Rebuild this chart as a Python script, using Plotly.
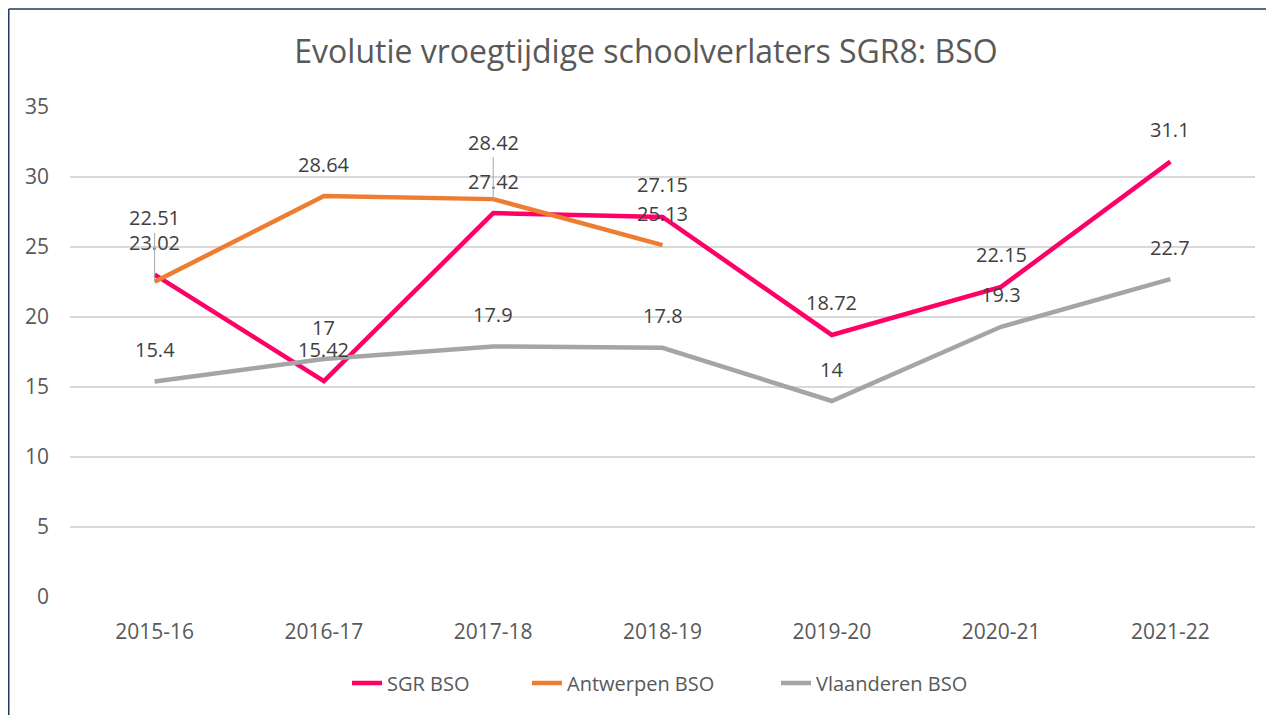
import plotly.graph_objects as go

categories = ["2015-16", "2016-17", "2017-18", "2018-19", "2019-20", "2020-21", "2021-22"]
sgr = [23.02, 15.42, 27.42, 27.15, 18.72, 22.15, 31.1]
antwerpen = [22.51, 28.64, 28.42, 25.13, None, None, None]
vlaanderen = [15.4, 17, 17.9, 17.8, 14, 19.3, 22.7]
y_ticks = [0, 5, 10, 15, 20, 25, 30, 35]

series = [
    ("SGR BSO", sgr, "#FF0066", "legend"),
    ("Antwerpen BSO", antwerpen, "#ED7D31", "legend2"),
    ("Vlaanderen BSO", vlaanderen, "#A5A5A5", "legend3"),
]

FONT = "Open Sans"
TXT = "#595959"
LBL = "#404040"

# page body has an 8px margin: figure origin sits at page (8, 8)
W, H = 1266, 707
L, T = 62, 99
PW, PH = 1185, 490

fig = go.Figure()
for name, vals, col, lg in series:
    fig.add_trace(go.Scatter(
        x=categories, y=vals, name=name, mode="lines", legend=lg,
        line=dict(color=col, width=4.5), connectgaps=False,
    ))

# data labels: default above point; a few pulled up with leader lines
leader = {("Antwerpen BSO", "2015-16"): -64, ("Antwerpen BSO", "2017-18"): -57}
for name, vals, col, lg in series:
    for c, v in zip(categories, vals):
        if v is None:
            continue
        txt = f"{v:g}"
        if (name, c) in leader:
            fig.add_annotation(x=c, y=v, text=txt, showarrow=True, ax=0, ay=leader[(name, c)],
                               arrowhead=0, arrowwidth=1, arrowcolor="#A6A6A6", standoff=0,
                               font=dict(family=FONT, size=20, color=LBL))
        else:
            fig.add_annotation(x=c, y=v, text=txt, showarrow=False, yshift=32,
                               font=dict(family=FONT, size=20, color=LBL))

# outer frame (left and top edges)
fx = (0.75 - L) / PW
fy = 1 + (T - 1) / PH
fig.add_shape(type="line", xref="paper", yref="paper", x0=fx, x1=fx,
              y0=-0.5, y1=fy, line=dict(color="#1F3864", width=1.5))
fig.add_shape(type="line", xref="paper", yref="paper", x0=fx, x1=1.1,
              y0=fy, y1=fy, line=dict(color="#1F3864", width=1.5))


def legend_at(text_start_px):
    return dict(orientation="h", x=(text_start_px - 39 - 8 - L) / PW, xanchor="left",
                y=(597 - 683) / PH, yanchor="middle",
                font=dict(family=FONT, size=20, color=TXT), bgcolor="rgba(0,0,0,0)")


fig.update_layout(
    width=W, height=H,
    margin=dict(l=L, r=W - L - PW, t=T, b=H - T - PH, pad=0),
    paper_bgcolor="white", plot_bgcolor="white",
    title=dict(text="Evolutie vroegtijdige schoolverlaters SGR8: BSO", x=((289 + 1003) / 2 - 8) / W,
               xanchor="center", y=1 - 44 / H, yanchor="middle", yref="container",
               font=dict(family=FONT, size=32, color=TXT)),
    showlegend=True,
    legend=legend_at(386),
    legend2=legend_at(566),
    legend3=legend_at(815),
    xaxis=dict(type="category", showgrid=False, showline=False, ticks="", zeroline=False,
               tickfont=dict(family=FONT, size=21, color=TXT), ticklabelstandoff=20,
               range=[-0.5, 6.5]),
    yaxis=dict(range=[0, 35], tickvals=y_ticks, showgrid=True, gridcolor="#D9D9D9", gridwidth=1.5,
               zeroline=False, showline=False, ticks="",
               tickfont=dict(family=FONT, size=21, color=TXT), ticklabelstandoff=20),
)

fig.write_html("out.html")
